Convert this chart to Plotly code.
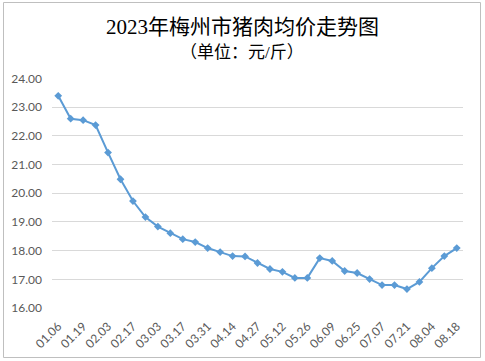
import plotly.graph_objects as go

tick_labels = ["01.06", "01.19", "02.03", "02.17", "03.03", "03.17", "03.31", "04.14",
               "04.27", "05.12", "05.26", "06.09", "06.25", "07.07", "07.21", "08.04", "08.18"]

prices = [23.40, 22.60, 22.55, 22.38, 21.42, 20.49, 19.73, 19.17, 18.84,
          18.61, 18.40, 18.30, 18.09, 17.95, 17.81, 17.80, 17.57, 17.36,
          17.26, 17.05, 17.05, 17.74, 17.64, 17.29, 17.22, 17.01, 16.80,
          16.80, 16.66, 16.91, 17.39, 17.81, 18.09]

y_ticks = [16, 17, 18, 19, 20, 21, 22, 23, 24]

x_pos = list(range(len(prices)))
tick_pos = x_pos[::2]

L, R, T, B = 52, 463, 78, 308
PW, PH = R - L, B - T

def px_x(v):
    return (v - L) / PW

def px_y(v):
    return (B - v) / PH

fig = go.Figure()
fig.add_trace(go.Scatter(
    x=x_pos, y=prices, mode="lines+markers",
    line=dict(color="#5b9bd5", width=2),
    marker=dict(symbol="diamond", size=6, color="#5b9bd5"),
    showlegend=False, hoverinfo="x+y",
))

fig.update_layout(
    width=485, height=361,
    margin=dict(l=L, r=485 - R, t=T, b=361 - B, autoexpand=False),
    paper_bgcolor="white", plot_bgcolor="white",
    font=dict(family="Lato, 'Noto Sans CJK SC', sans-serif", color="#595959", size=12),
    xaxis=dict(
        range=[-0.5, len(prices) - 0.5],
        tickmode="array", tickvals=tick_pos, ticktext=tick_labels,
        tickangle=-45, showgrid=False, zeroline=False, showline=False,
        tickfont=dict(size=12, color="#595959"),
        ticks="", ticklabelstandoff=8, automargin=False, fixedrange=True,
    ),
    yaxis=dict(
        range=[16, 24.02],
        tickmode="array", tickvals=y_ticks,
        ticktext=[f"{v:.2f}" for v in y_ticks],
        showgrid=True, gridcolor="#d9d9d9", gridwidth=1,
        zeroline=False, showline=False,
        tickfont=dict(size=12, color="#595959"),
        ticks="", ticklabelstandoff=9, automargin=False, fixedrange=True,
    ),
    shapes=[dict(type="rect", xref="paper", yref="paper",
                 x0=px_x(3.5), x1=px_x(480.5), y0=px_y(357.5), y1=px_y(2.5),
                 line=dict(color="#bfbfbf", width=1), layer="below")],
    annotations=[
        dict(text="2023年梅州市猪肉均价走势图", x=px_x(242), xref="paper",
             y=px_y(27), yref="paper", showarrow=False, yanchor="middle",
             font=dict(family="'Liberation Serif', 'Noto Sans CJK SC', serif", size=21, color="#000000")),
        dict(text="（单位：元/斤）", x=px_x(242), xref="paper",
             y=px_y(52), yref="paper", showarrow=False, yanchor="middle",
             font=dict(family="'Liberation Serif', 'Noto Sans CJK SC', serif", size=17, color="#000000")),
    ],
)

fig.write_html("out.html", config={"displayModeBar": False},
               post_script="document.body.style.margin='0';document.body.style.overflow='hidden';")
